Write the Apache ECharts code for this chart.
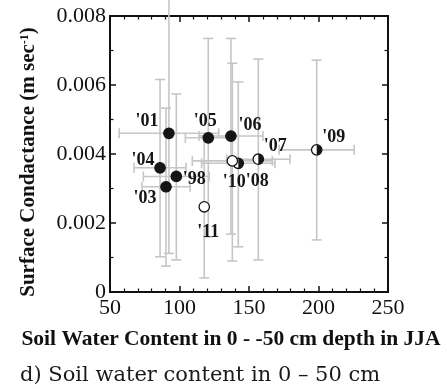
<!DOCTYPE html>
<html>
<head>
<meta charset="utf-8">
<script src="https://cdn.jsdelivr.net/npm/echarts@6/dist/echarts.min.js"></script>
<style>
html,body{margin:0;padding:0;background:#fff;}
#chart{width:447px;height:389px;}
</style>
</head>
<body>
<div id="chart"></div>
<script>
// ---- data ----
const years = ["'98", "'01", "'03", "'04", "'05", "'06", "'07", "'08", "'09", "'10", "'11"];
const soilWater = [97.7, 92.4, 90.3, 86.0, 120.7, 137.0, 156.7, 142.3, 198.7, 138.0, 117.8];
const conductance = [0.00335, 0.0046, 0.00305, 0.0036, 0.00447, 0.00452, 0.00385, 0.00373, 0.00412, 0.0038, 0.00247];
const condLow = [0.00093, 0.00112, 0.00075, 0.00102, 0.0016, 0.00168, 0.00093, 0.00131, 0.00151, 0.0009, 0.00041];
const condHigh = [0.00574, 0.0085, 0.00533, 0.00616, 0.00735, 0.00735, 0.00675, 0.00609, 0.00672, 0.00663, 0.00453];
const soilErr = [23.7, 35.8, 17.3, 18.7, 16.5, 23.0, 22.8, 26.4, 27.0, 28.8, 0];
const markerKind = ['filled', 'filled', 'filled', 'filled', 'filled', 'filled', 'half', 'half', 'half', 'open', 'open'];
const xTicks = [50, 100, 150, 200, 250];
const yTicks = [0, 0.002, 0.004, 0.006, 0.008];

// ---- layout (label offsets in px relative to marker) ----
const labelOffset = {
  "'98": [18, 3], "'01": [-22, -12], "'03": [-21, 12], "'04": [-17, -7],
  "'05": [-3, -16], "'06": [19, -11], "'07": [17, -13], "'08": [19, 18],
  "'09": [17, -13], "'10": [2, 21], "'11": [4, 26]
};

const rows = years.map((y, i) => [soilWater[i], conductance[i], condLow[i], condHigh[i], soilErr[i], i]);

const chart = echarts.init(document.getElementById('chart'), null, {renderer: 'canvas'});

function errItem(params, api) {
  const x = api.value(0), y = api.value(1), lo = api.value(2), hi = api.value(3), xe = api.value(4);
  const st = {stroke: '#c6c6c6', lineWidth: 1.6};
  const ch = [];
  const pLo = api.coord([x, lo]), pHi = api.coord([x, hi]);
  ch.push({type: 'line', shape: {x1: pLo[0], y1: pLo[1], x2: pHi[0], y2: pHi[1]}, style: st});
  ch.push({type: 'line', shape: {x1: pLo[0] - 5, y1: pLo[1], x2: pLo[0] + 5, y2: pLo[1]}, style: st});
  ch.push({type: 'line', shape: {x1: pHi[0] - 5, y1: pHi[1], x2: pHi[0] + 5, y2: pHi[1]}, style: st});
  if (xe > 0) {
    const pL = api.coord([x - xe, y]), pR = api.coord([x + xe, y]);
    ch.push({type: 'line', shape: {x1: pL[0], y1: pL[1], x2: pR[0], y2: pR[1]}, style: st});
    ch.push({type: 'line', shape: {x1: pL[0], y1: pL[1] - 5, x2: pL[0], y2: pL[1] + 5}, style: st});
    ch.push({type: 'line', shape: {x1: pR[0], y1: pR[1] - 5, x2: pR[0], y2: pR[1] + 5}, style: st});
  }
  return {type: 'group', children: ch};
}

function markItem(params, api) {
  const i = api.value(5);
  const p = api.coord([api.value(0), api.value(1)]);
  const kind = markerKind[i];
  const ch = [];
  ch.push({type: 'circle', shape: {cx: p[0], cy: p[1], r: 5.2},
    style: {fill: kind === 'filled' ? '#151515' : '#ffffff', stroke: '#151515', lineWidth: 1.3}});
  if (kind === 'half') {
    ch.push({type: 'sector', shape: {cx: p[0], cy: p[1], r0: 0, r: 5.2, startAngle: -Math.PI / 2, endAngle: Math.PI / 2, clockwise: true},
      style: {fill: '#151515'}});
  }
  const off = labelOffset[years[i]];
  ch.push({type: 'text', x: p[0] + off[0], y: p[1] + off[1],
    style: {text: years[i], fontFamily: 'Liberation Serif', fontWeight: 'bold', fontSize: 18, fill: '#151515',
      align: 'center', verticalAlign: 'middle'}});
  return {type: 'group', children: ch};
}

const axisLine = {show: true, onZero: false, lineStyle: {color: '#111', width: 2}};
const tickStyle = {color: '#111', width: 1.5};
const minorStyle = {color: '#111', width: 1.2};

const option = {
  backgroundColor: '#fff',
  animation: false,
  grid: {left: 110, right: 59, top: 16, bottom: 97},
  xAxis: [
    {type: 'value', min: xTicks[0], max: xTicks[xTicks.length - 1], interval: 50, position: 'bottom',
      axisLine, axisTick: {inside: true, length: 6, lineStyle: tickStyle},
      minorTick: {show: true, splitNumber: 5, length: 3.5, lineStyle: minorStyle},
      splitLine: {show: false}, minorSplitLine: {show: false},
      axisLabel: {fontFamily: 'Liberation Serif', fontSize: 22, color: '#111', margin: 5,
        formatter: v => xTicks.includes(v) ? String(v) : ''}},
    {type: 'value', min: xTicks[0], max: xTicks[xTicks.length - 1], interval: 50, position: 'top',
      axisLine, axisTick: {inside: true, length: 6, lineStyle: tickStyle},
      minorTick: {show: true, splitNumber: 5, length: 3.5, lineStyle: minorStyle},
      splitLine: {show: false}, axisLabel: {show: false}}
  ],
  yAxis: [
    {type: 'value', min: yTicks[0], max: yTicks[yTicks.length - 1], interval: 0.002, position: 'left',
      axisLine, axisTick: {inside: true, length: 6, lineStyle: tickStyle},
      minorTick: {show: true, splitNumber: 2, length: 3.5, lineStyle: minorStyle},
      splitLine: {show: false}, minorSplitLine: {show: false},
      axisLabel: {fontFamily: 'Liberation Serif', fontSize: 22, color: '#111', margin: 4,
        formatter: v => v === 0 ? '0' : v.toFixed(3)}},
    {type: 'value', min: yTicks[0], max: yTicks[yTicks.length - 1], interval: 0.002, position: 'right',
      axisLine, axisTick: {inside: true, length: 6, lineStyle: tickStyle},
      minorTick: {show: true, splitNumber: 2, length: 3.5, lineStyle: minorStyle},
      splitLine: {show: false}, axisLabel: {show: false}}
  ],
  graphic: [
    {type: 'text', x: 29, y: 162, rotation: Math.PI / 2, z: 100,
      style: {text: 'Surface Condactance (m sec{sup|-1})', fontFamily: 'Liberation Serif', fontWeight: 'bold',
        fontSize: 21, fill: '#111', align: 'center', verticalAlign: 'middle',
        rich: {sup: {fontFamily: 'Liberation Serif', fontWeight: 'bold', fontSize: 12, fill: '#111', padding: [0, 0, 9, 0]}}}},
    {type: 'text', x: 231, y: 339, z: 100,
      style: {text: 'Soil Water Content in 0 - -50 cm depth in JJA', fontFamily: 'Liberation Serif', fontWeight: 'bold',
        fontSize: 21.5, fill: '#111', align: 'center', verticalAlign: 'middle'}},
    {type: 'text', x: 20, y: 376, z: 100,
      style: {text: 'd) Soil water content in 0 \u2013 50 cm', fontFamily: 'DejaVu Serif',
        fontSize: 21, fill: '#1a1a1a', align: 'left', verticalAlign: 'middle'}}
  ],
  series: [
    {type: 'custom', name: 'errors', xAxisIndex: 0, yAxisIndex: 0, clip: false, renderItem: errItem,
      data: rows, encode: {x: 0, y: 1}, z: 2},
    {type: 'custom', name: 'points', xAxisIndex: 0, yAxisIndex: 0, clip: false, renderItem: markItem,
      data: rows, encode: {x: 0, y: 1}, z: 5}
  ]
};
chart.setOption(option);
</script>
</body>
</html>
